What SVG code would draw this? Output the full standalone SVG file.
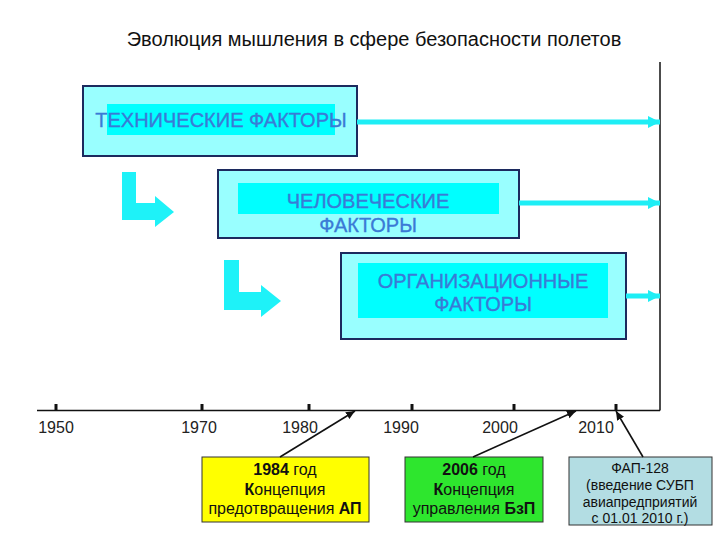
<svg xmlns="http://www.w3.org/2000/svg" width="720" height="540" viewBox="0 0 720 540">
<defs>
<style>
.t{font-family:"Liberation Sans",Arial,sans-serif;}
.box{fill:#99FFFF;stroke:#1C2A5E;stroke-width:2;}
.inner{fill:#00FFFF;stroke:none;}
.ft{font-size:20px;fill:#3A7AD6;text-anchor:middle;stroke:#3A7AD6;stroke-width:0.35;}
.flow{stroke:#1EEEF5;stroke-width:5;fill:none;}
.bend{fill:#1EF2F8;}
.yr{font-size:16px;fill:#222;text-anchor:middle;}
.ptr{stroke:#111;stroke-width:1.6;fill:none;}
.note{font-size:16px;text-anchor:middle;fill:#111;}
</style>
<marker id="cyanHead" markerUnits="userSpaceOnUse" markerWidth="14" markerHeight="14" refX="12" refY="7" orient="auto">
<path d="M0,1 L12,7 L0,13 Z" fill="#1EEEF5"/>
</marker>
<marker id="blackHead" markerUnits="userSpaceOnUse" markerWidth="10" markerHeight="10" refX="9" refY="5" orient="auto">
<path d="M0,1 L9,5 L0,9 Z" fill="#111"/>
</marker>
</defs>
<rect width="720" height="540" fill="#fff"/>

<g id="title">
<text class="t" x="374" y="46" font-size="20" text-anchor="middle" fill="#111">Эволюция мышления в сфере безопасности полетов</text>
</g>

<g id="timeline">
<line x1="660" y1="62" x2="660" y2="410.5" stroke="#111" stroke-width="1.5"/>
<line x1="37" y1="410.5" x2="660" y2="410.5" stroke="#111" stroke-width="1.6"/>
<g stroke="#111" stroke-width="3">
<line x1="56" y1="404" x2="56" y2="411"/>
<line x1="202" y1="404" x2="202" y2="411"/>
<line x1="309" y1="404" x2="309" y2="411"/>
<line x1="412" y1="404" x2="412" y2="411"/>
<line x1="514" y1="404" x2="514" y2="411"/>
<line x1="616" y1="404" x2="616" y2="411"/>
</g>
<text class="t yr" x="56" y="433">1950</text>
<text class="t yr" x="199" y="433">1970</text>
<text class="t yr" x="300" y="433">1980</text>
<text class="t yr" x="401" y="433">1990</text>
<text class="t yr" x="500" y="433">2000</text>
<text class="t yr" x="596" y="433">2010</text>
</g>

<g id="node-tech">
<rect class="box" x="83" y="86" width="274" height="70"/>
<rect class="inner" x="107" y="104" width="228" height="31"/>
<text class="t ft" x="221" y="127">ТЕХНИЧЕСКИЕ ФАКТОРЫ</text>
</g>

<g id="node-human">
<rect class="box" x="218" y="170" width="301" height="68"/>
<rect class="inner" x="238" y="183" width="261" height="31"/>
<text class="t ft" x="368" y="208">ЧЕЛОВЕЧЕСКИЕ</text>
<text class="t ft" x="368" y="232">ФАКТОРЫ</text>
</g>

<g id="node-org">
<rect class="box" x="341" y="253" width="285" height="86"/>
<rect class="inner" x="358" y="263" width="250" height="55"/>
<text class="t ft" x="483" y="288">ОРГАНИЗАЦИОННЫЕ</text>
<text class="t ft" x="483" y="311">ФАКТОРЫ</text>
</g>

<g id="node-1984">
<rect x="202" y="457" width="167" height="65" fill="#FFFF00" stroke="#333" stroke-width="1"/>
<text class="t note" x="285" y="475"><tspan font-weight="bold">1984</tspan> год</text>
<text class="t note" x="285" y="495"><tspan font-weight="bold">К</tspan>онцепция</text>
<text class="t note" x="285" y="514">предотвращения <tspan font-weight="bold">АП</tspan></text>
</g>

<g id="node-2006">
<rect x="405" y="457" width="138" height="65" fill="#2EE62E" stroke="#333" stroke-width="1"/>
<text class="t note" x="474" y="475" fill="#1B3A1B"><tspan font-weight="bold">2006</tspan> год</text>
<text class="t note" x="474" y="495" fill="#1B3A1B"><tspan font-weight="bold">К</tspan>онцепция</text>
<text class="t note" x="474" y="514" fill="#1B3A1B">управления <tspan font-weight="bold">БзП</tspan></text>
</g>

<g id="node-fap">
<rect x="569" y="457" width="143" height="68" fill="#B3DDE3" stroke="#333" stroke-width="1"/>
<text class="t" x="640" y="473" font-size="14" text-anchor="middle" fill="#111">ФАП-128</text>
<text class="t" x="640" y="490" font-size="14" text-anchor="middle" fill="#111">(введение СУБП</text>
<text class="t" x="640" y="507" font-size="14" text-anchor="middle" fill="#111">авиапредприятий</text>
<text class="t" x="640" y="523" font-size="14" text-anchor="middle" fill="#111">с 01.01 2010 г.)</text>
</g>

<g id="connectors">
<line class="flow" x1="357" y1="122" x2="660" y2="122" marker-end="url(#cyanHead)"/>
<line class="flow" x1="519" y1="203" x2="660" y2="203" marker-end="url(#cyanHead)"/>
<line class="flow" x1="626" y1="296" x2="660" y2="296" marker-end="url(#cyanHead)"/>
<polygon class="bend" points="122,172 136,172 136,203 155,203 155,196 174,212 155,227 155,220 122,220"/>
<polygon class="bend" points="224,260 239,260 239,292 261,292 261,285 281,301 261,317 261,310 224,310"/>
<line class="ptr" x1="280" y1="457" x2="355" y2="411" marker-end="url(#blackHead)"/>
<line class="ptr" x1="473" y1="457" x2="576" y2="411" marker-end="url(#blackHead)"/>
<line class="ptr" x1="643" y1="457" x2="616" y2="411" marker-end="url(#blackHead)"/>
</g>
</svg>
